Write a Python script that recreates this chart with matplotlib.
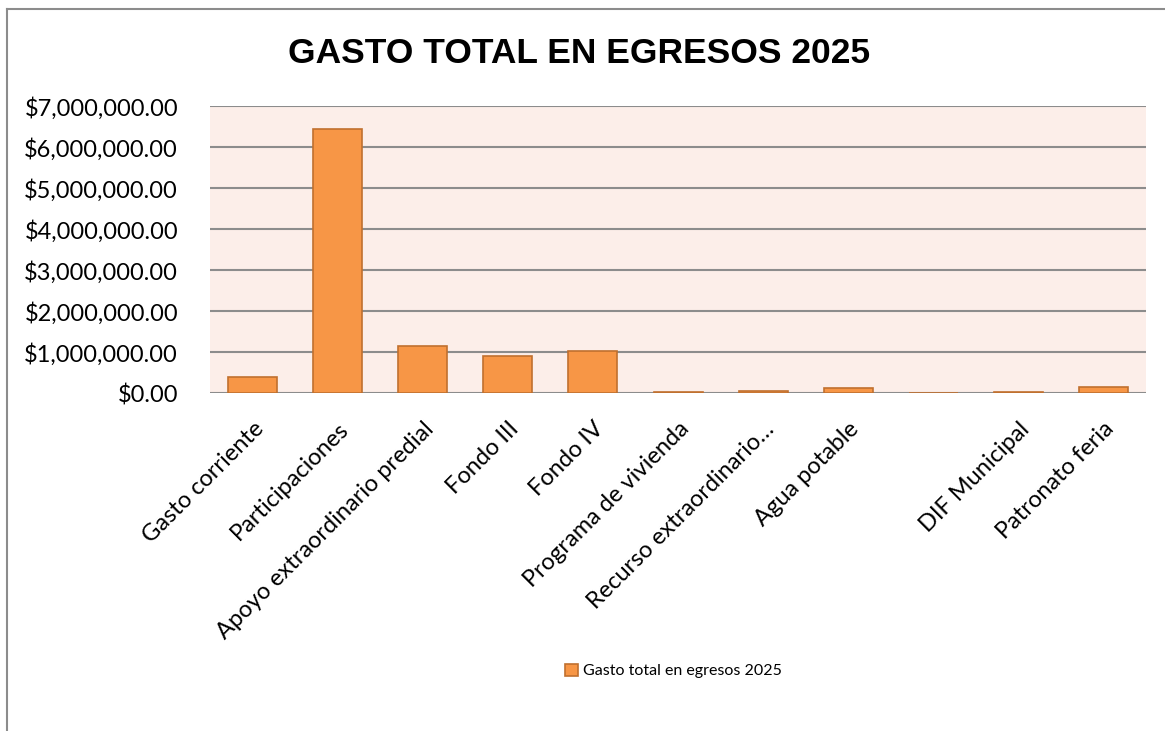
import matplotlib.pyplot as plt
from matplotlib.lines import Line2D
from matplotlib.ticker import FuncFormatter

# datos
categorias = ["Gasto corriente", "Participaciones", "Apoyo extraordinario predial",
              "Fondo III", "Fondo IV", "Programa de vivienda",
              "Recurso extraordinario…", "Agua potable", "", "DIF Municipal",
              "Patronato feria"]
gasto = [400000, 6440000, 1146000, 905000, 1024000, 30000,
         55000, 122000, 0, 30000, 154000]
serie = "Gasto total en egresos 2025"
titulo = "GASTO TOTAL EN EGRESOS 2025"

fig = plt.figure(figsize=(11.65, 7.31), dpi=100)
ax = fig.add_axes([0.1803, 0.462, 0.8034, 0.3926])
ax.set_facecolor("#FCEEE9")

x = range(len(categorias))
ax.bar(x, gasto, width=0.576, color="#F79646", edgecolor="#C0702F",
       linewidth=1.2, label=serie, zorder=3)

ax.set_xlim(-0.5, len(categorias) - 0.5)
ax.set_ylim(0, 7000000)
ax.set_yticks(range(0, 7000001, 1000000))
ax.yaxis.set_major_formatter(FuncFormatter(lambda v, p: f"${v:,.2f}"))
ax.grid(axis="y", color="#8C8C8C", linewidth=1.5, zorder=1)
ax.set_axisbelow(True)
for s in ax.spines.values():
    s.set_visible(False)
ax.tick_params(length=0)
ax.tick_params(axis="y", pad=23, labelsize=17)
ax.tick_params(axis="x", pad=18)
ax.set_xticks(list(x))
ax.set_xticklabels(categorias, rotation=45, ha="right", rotation_mode="anchor",
                   fontsize=17)
for lab in ax.get_xticklabels() + ax.get_yticklabels():
    lab.set_family("Lato")

fig.text(0.497, 0.927, titulo, ha="center", va="center", fontsize=25.5,
         fontweight="bold", family="Liberation Sans")

fig.legend(loc="center", bbox_to_anchor=(0.578, 0.082), frameon=False,
           prop={"family": "Lato", "size": 11.5}, handlelength=0.8,
           handleheight=0.8, handletextpad=0.3)

# marco del area del grafico
fig.add_artist(Line2D([0.006, 0.006], [0, 0.988], color="#8C8C8C", lw=1.5))
fig.add_artist(Line2D([0.006, 1.0], [0.988, 0.988], color="#8C8C8C", lw=1.5))

fig.savefig("out.png", dpi=100)
